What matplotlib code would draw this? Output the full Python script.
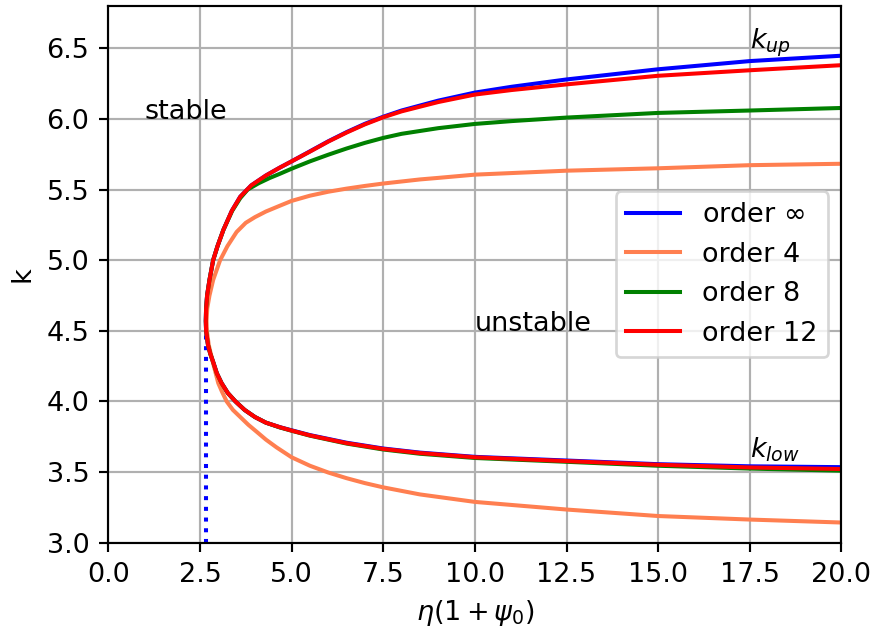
import matplotlib
matplotlib.use("Agg")
import matplotlib.pyplot as plt

# Stability boundary k(eta(1+psi0)) for each truncation order.
# Each curve is traced from the far end of the upper branch, around the
# turning point, out along the lower branch.

inf_x = [20.0, 17.5, 15.0, 12.5, 11.0, 10.0, 9.0, 8.0, 7.5, 7.0, 6.5, 6.0, 5.5, 5.0, 4.68, 4.3, 3.9,
         3.6, 3.37, 3.14, 2.98, 2.86, 2.76, 2.695, 2.667, 2.66,
         2.668, 2.72, 2.78, 2.86, 2.96, 3.09, 3.26, 3.47, 3.72, 4.0, 4.3, 4.68, 5.0, 5.5, 6.5, 7.5, 8.5,
         10.0, 12.5, 15.0, 17.5, 20.0]
inf_k = [6.448, 6.41, 6.352, 6.28, 6.228, 6.187, 6.130, 6.060, 6.016, 5.966, 5.907, 5.842, 5.771, 5.70, 5.656, 5.60, 5.53,
         5.45, 5.35, 5.215, 5.10, 5.00, 4.86, 4.75, 4.65, 4.57,
         4.50, 4.40, 4.34, 4.28, 4.20, 4.13, 4.06, 4.00, 3.94, 3.89, 3.85, 3.818, 3.796, 3.762, 3.708, 3.667,
         3.638, 3.608, 3.582, 3.556, 3.541, 3.535]

o4_x = [20.0, 17.5, 15.0, 12.5, 10.0, 9.0, 8.5, 7.5, 7.0, 6.5, 6.0, 5.5, 5.0, 4.68, 4.3, 4.0, 3.75, 3.5, 3.25, 3.05, 2.86,
        2.76, 2.70, 2.68,
        2.69, 2.74, 2.84, 2.92, 3.0, 3.1, 3.23, 3.4, 3.6, 3.82, 4.05, 4.3, 4.59, 5.0, 5.5, 6.0, 6.5, 7.0, 7.5, 8.5,
        10.0, 12.5, 15.0, 17.5, 20.0]
o4_k = [5.683, 5.673, 5.651, 5.634, 5.606, 5.583, 5.572, 5.543, 5.526, 5.507, 5.485, 5.457, 5.42, 5.386, 5.345, 5.305, 5.265, 5.20, 5.10, 5.00, 4.86,
        4.75, 4.66, 4.57,
        4.50, 4.40, 4.29, 4.21, 4.13, 4.07, 4.00, 3.94, 3.89, 3.835, 3.785, 3.73, 3.675, 3.605, 3.545, 3.497, 3.457, 3.422, 3.392, 3.342,
        3.289, 3.235, 3.189, 3.164, 3.143]

o8_x = [20.0, 17.5, 15.0, 12.5, 11.0, 10.0, 9.0, 8.0, 7.5, 7.0, 6.5, 6.0, 5.5, 5.0, 4.68, 4.4, 4.1, 3.8, 3.6, 3.38, 3.14, 2.98, 2.86,
        2.76, 2.695, 2.667, 2.66,
        2.668, 2.72, 2.78, 2.86, 2.96, 3.09, 3.26, 3.47, 3.72, 4.0, 4.3, 4.68, 5.0, 5.5, 6.5, 7.5, 8.5,
        10.0, 12.5, 15.0, 17.5, 20.0]
o8_k = [6.078, 6.06, 6.043, 6.010, 5.985, 5.965, 5.935, 5.895, 5.866, 5.831, 5.791, 5.747, 5.70, 5.648, 5.612, 5.582, 5.545, 5.50, 5.44, 5.35, 5.215, 5.10, 5.00,
        4.86, 4.75, 4.65, 4.57,
        4.50, 4.40, 4.34, 4.28, 4.20, 4.13, 4.06, 4.00, 3.94, 3.89, 3.85, 3.816, 3.793, 3.758, 3.702, 3.66, 3.63,
        3.600, 3.573, 3.545, 3.525, 3.510]

o12_x = [20.0, 17.5, 15.0, 12.5, 11.0, 10.0, 9.0, 8.0, 7.5, 7.0, 6.5, 6.0, 5.5, 5.0, 4.68, 4.3, 3.9,
         3.6, 3.37, 3.14, 2.98, 2.86, 2.76, 2.695, 2.667, 2.66,
         2.668, 2.72, 2.78, 2.86, 2.96, 3.09, 3.26, 3.47, 3.72, 4.0, 4.3, 4.68, 5.0, 5.5, 6.5, 7.5, 8.5,
         10.0, 12.5, 15.0, 17.5, 20.0]
o12_k = [6.381, 6.345, 6.306, 6.245, 6.205, 6.173, 6.120, 6.054, 6.012, 5.962, 5.904, 5.840, 5.769, 5.70, 5.656, 5.60, 5.53,
         5.45, 5.35, 5.215, 5.10, 5.00, 4.86, 4.75, 4.65, 4.57,
         4.50, 4.40, 4.34, 4.28, 4.20, 4.13, 4.06, 4.00, 3.94, 3.89, 3.85, 3.818, 3.794, 3.76, 3.705, 3.664,
         3.635, 3.605, 3.578, 3.552, 3.533, 3.522]

# threshold marker below the turning point
thr_x = [2.657, 2.657]
thr_k = [3.0, 4.57]

x_ticks = [0.0, 2.5, 5.0, 7.5, 10.0, 12.5, 15.0, 17.5, 20.0]
k_ticks = [3.0, 3.5, 4.0, 4.5, 5.0, 5.5, 6.0, 6.5]

DPI = 194
fig = plt.figure(figsize=(874 / DPI, 631 / DPI), dpi=DPI)
fig.subplots_adjust(left=0.1239, right=0.9628, bottom=0.1399, top=0.9905)
ax = fig.add_subplot(111)

ax.plot(thr_x, thr_k, color="blue", linestyle=":")
ax.plot(inf_x, inf_k, color="blue", label=r"order $\infty$")
ax.plot(o4_x, o4_k, color="coral", label="order 4")
ax.plot(o8_x, o8_k, color="green", label="order 8")
ax.plot(o12_x, o12_k, color="red", label="order 12")

ax.text(1.0, 6.0, "stable")
ax.text(10.0, 4.5, "unstable")
ax.text(17.5, 6.5, r"$k_{up}$")
ax.text(17.5, 3.6, r"$k_{low}$")

ax.set_xlim(0, 20)
ax.set_ylim(3.0, 6.8)
ax.set_xticks(x_ticks)
ax.set_yticks(k_ticks)
ax.grid(True)
ax.set_xlabel(r"$\eta(1+\psi_0)$")
ax.set_ylabel("k")
ax.legend(loc="center right")

fig.savefig("out.png", dpi=DPI)
